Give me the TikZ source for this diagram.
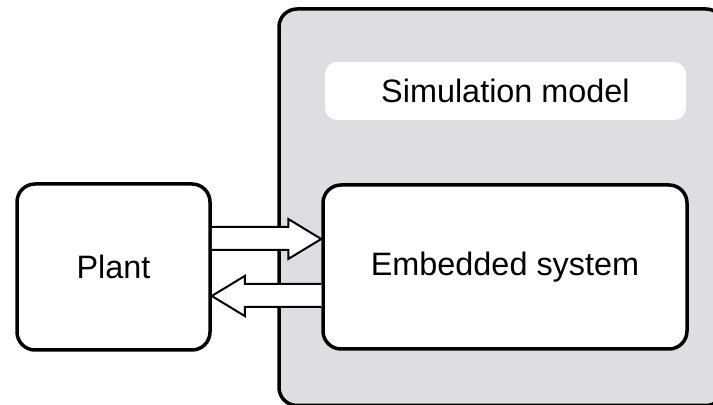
\documentclass[tikz,border=0pt]{standalone}
\usepackage{fontspec}
\setmainfont{Liberation Sans}
\usetikzlibrary{calc}
\definecolor{boxgray}{RGB}{221,222,226}
\tikzset{
  block/.style={draw,line width=1.75pt,rounded corners=9pt,fill=white,minimum width=#1,minimum height=82pt,font=\fontsize{16.2}{19}\selectfont},
  flow/.style={draw,line width=1pt,fill=white,line join=miter},
}
\begin{document}
\begin{tikzpicture}[x=0.5pt,y=-0.5pt]
    \useasboundingbox (0,0) rectangle (713,405);
    \clip (0,0) rectangle (713,405);
    % host side
    \draw[line width=1.75pt,fill=boxgray,rounded corners=9pt] (279,9) rectangle (724,405.5);
    \node[fill=white,rounded corners=6pt,minimum width=180.5pt,minimum height=29pt,font=\fontsize{16.2}{19}\selectfont] (simmodel) at (505.5,91) {Simulation model};
    \node[block=182pt] (embedded) at (505,267) {Embedded system};
    \node[block=96.5pt,minimum height=83pt] (plant) at (113.5,267) {Plant};
    % signal arrows
    \draw[flow] ($(plant.east)+(0,-40)$) -- ($(embedded.west)+(-33,-40)$) -- ++(0,-8) -- ($(embedded.west)+(0,-28)$) -- ($(embedded.west)+(-33,-8)$) -- ++(0,-9) -- ($(plant.east)+(0,-17)$);
    \draw[flow] ($(embedded.west)+(0,17)$) -- ($(plant.east)+(33,17)$) -- ++(0,-8) -- ($(plant.east)+(0,29)$) -- ($(plant.east)+(33,49)$) -- ++(0,-9) -- ($(embedded.west)+(0,40)$);
\end{tikzpicture}
\end{document}
